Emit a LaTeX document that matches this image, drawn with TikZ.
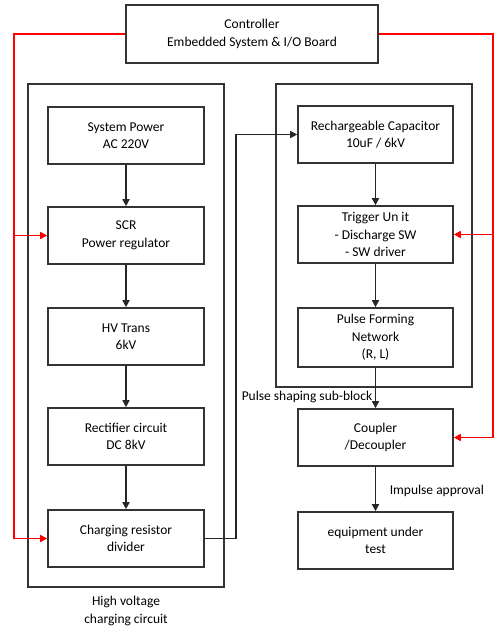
\documentclass[tikz,border=0pt]{standalone}
\usepackage{fontspec}
\setmainfont{Carlito}
\usetikzlibrary{arrows.meta}
\begin{document}
\begin{tikzpicture}[x=1pt,y=-1pt,
  line width=1.5pt,
  box/.style={draw=black!80, line width=1.6pt, align=center, font=\fontsize{13.5}{17.5}\selectfont, inner sep=0pt},
  blk/.style={box, minimum width=156pt, minimum height=57pt},
  frame/.style={draw=black!80, line width=1.6pt, inner sep=0pt},
  arr/.style={draw=black!85, line width=1.5pt, -{Triangle[length=7pt,width=7pt]}},
  redarr/.style={draw=red, line width=1.5pt, -{Triangle[length=7pt,width=7pt]}},
  redln/.style={draw=red, line width=1.5pt},
  lbl/.style={font=\fontsize{13.5}{17.5}\selectfont, inner sep=0pt, align=center}]
\useasboundingbox (0,0) rectangle (498,631);
% outer frames
\node[frame, minimum width=196pt, minimum height=503pt] (hvframe) at (126,335.5) {};
\node[frame, minimum width=196pt, minimum height=303pt] (psframe) at (374,235.5) {};
% controller
\node[box, minimum width=252pt, minimum height=58pt] (ctrl) at (252,34) {Controller\\Embedded System \& I/O Board};
% left blocks
\node[blk] (sys) at (126,135.5) {System Power\\AC 220V};
\node[blk] (scr) at (126,235.5) {SCR\\Power regulator};
\node[blk] (hv) at (126,336.5) {HV Trans\\6kV};
\node[blk] (rect) at (126,436.5) {Rectifier circuit\\DC 8kV};
\node[blk] (chg) at (126,538.5) {Charging resistor\\divider};
% right blocks
\node[blk, minimum width=155pt] (cap) at (375.5,134.5) {Rechargeable Capacitor\\10uF / 6kV};
\node[blk, minimum width=155pt] (trig) at (375.5,234.5) {Trigger Un it\\- Discharge SW\\- SW driver};
\node[blk, minimum width=155pt, minimum height=59pt] (pfn) at (375.5,337.5) {Pulse Forming\\Network\\(R, L)};
\node[blk, minimum width=155pt] (coup) at (375.5,437.5) {Coupler\\/Decoupler};
\node[blk, minimum width=155pt] (eut) at (375.5,540.5) {equipment under\\test};
% labels
\node[lbl, anchor=west] (pslbl) at (241,397) {Pulse shaping sub-block};
\node[lbl, anchor=west] (implbl) at (389,491) {Impulse approval};
\node[lbl] (hvlbl) at (126,611) {High voltage\\charging circuit};
% black arrows
\draw[arr] (sys) -- (scr);
\draw[arr] (scr) -- (hv);
\draw[arr] (hv) -- (rect);
\draw[arr] (rect) -- (chg);
\draw[arr] (cap) -- (trig);
\draw[arr] (trig) -- (pfn);
\draw[arr] (pfn) -- (coup);
\draw[arr] (coup) -- (eut);
\coordinate (jx) at (236,0);
\draw[arr] (chg.east) -| (jx |- cap.west) -- (cap.west);
% red control lines
\coordinate (rl) at (14,0);
\coordinate (rr) at (493,0);
\draw[redln] (ctrl.west) -| (rl |- chg.west);
\draw[redarr] (rl |- chg.west) -- (chg.west);
\draw[redarr] (rl |- scr.west) -- (scr.west);
\draw[redln] (ctrl.east) -| (rr |- coup.east);
\draw[redarr] (rr |- coup.east) -- (coup.east);
\draw[redarr] (rr |- trig.east) -- (trig.east);
\end{tikzpicture}
\end{document}
